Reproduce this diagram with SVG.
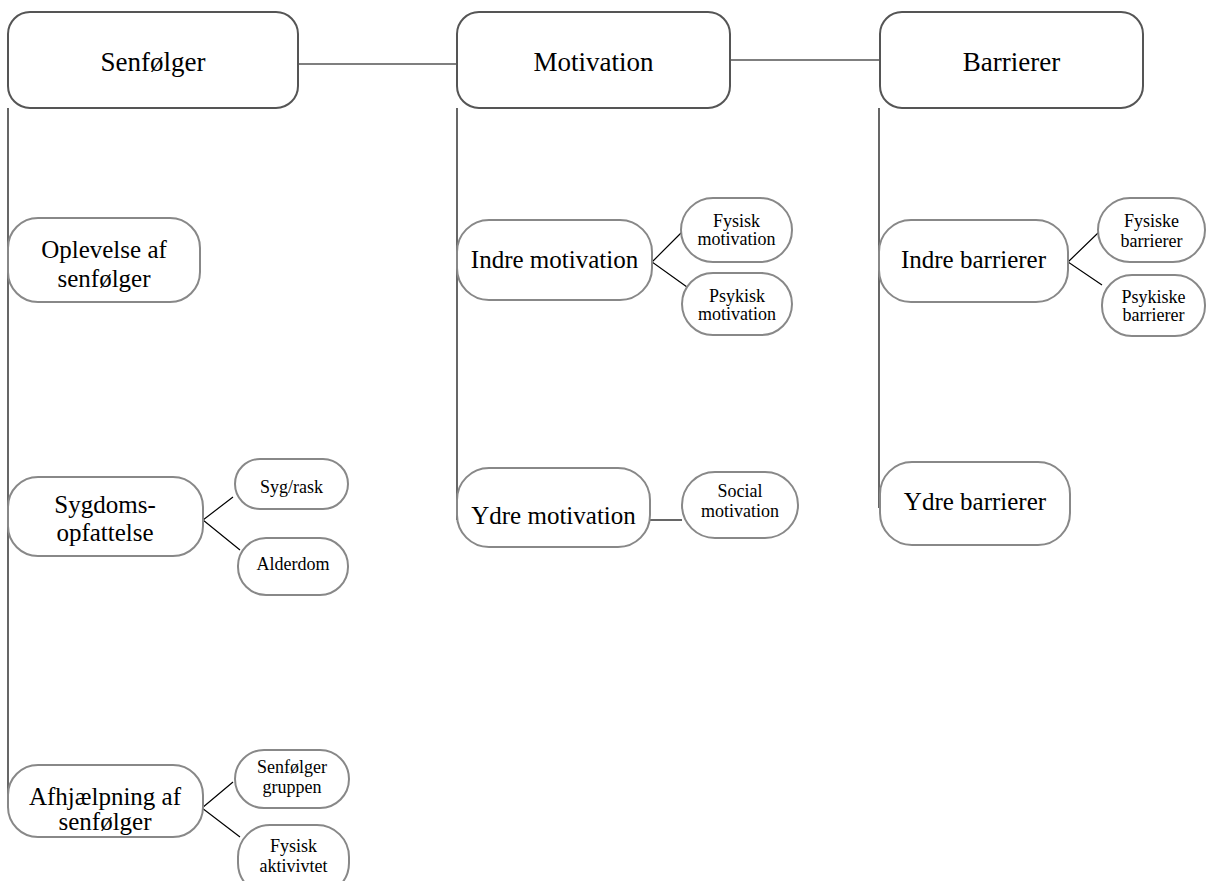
<svg xmlns="http://www.w3.org/2000/svg" width="1206" height="881" viewBox="0 0 1206 881">
<style>
.top{fill:#fff;stroke:#555;stroke-width:2}
.sub{fill:#fff;stroke:#888;stroke-width:2}
.t{font-family:"Liberation Serif","Times New Roman",serif;fill:#000;text-anchor:middle}
.t1{font-size:27px}
.t2{font-size:25px}
.t3{font-size:18px}
.ln{stroke:#000;stroke-width:1.2;fill:none}
</style>
<rect width="1206" height="881" fill="#fff"/>
<g id="connectors">
<line class="ln" x1="298" y1="64" x2="457" y2="64"/>
<line class="ln" x1="730" y1="60" x2="880" y2="60"/>
<line class="ln" x1="8" y1="108" x2="8" y2="800"/>
<line class="ln" x1="457" y1="108" x2="457" y2="520"/>
<line class="ln" x1="879" y1="108" x2="879" y2="508"/>
<polyline class="ln" points="233,497 203,520 240,550"/>
<polyline class="ln" points="233,782 202,808 240,837"/>
<polyline class="ln" points="682,232 652,262 687,287"/>
<line class="ln" x1="650" y1="520" x2="682" y2="520"/>
<polyline class="ln" points="1099,232 1068,262 1102,285"/>
</g>
<g id="senfolger"><rect class="top" x="8" y="12" width="290" height="96" rx="22"/><text class="t t1" x="153" y="71">Senfølger</text></g>
<g id="motivation"><rect class="top" x="457" y="12" width="273" height="96" rx="22"/><text class="t t1" x="593.5" y="71">Motivation</text></g>
<g id="barrierer"><rect class="top" x="880" y="12" width="263" height="96" rx="22"/><text class="t t1" x="1011.5" y="71">Barrierer</text></g>

<g id="oplevelse"><rect class="sub" x="8" y="218" width="192" height="84" rx="30"/><text class="t t2" x="104" y="258">Oplevelse af</text><text class="t t2" x="104" y="287">senfølger</text></g>
<g id="sygdom"><rect class="sub" x="8" y="477" width="195" height="79" rx="30"/><text class="t t2" x="105" y="513">Sygdoms-</text><text class="t t2" x="105" y="541">opfattelse</text></g>
<g id="sygrask"><rect class="sub" x="235" y="459" width="113" height="50" rx="25"/><text class="t t3" x="291.5" y="493">Syg/rask</text></g>
<g id="alderdom"><rect class="sub" x="238" y="538" width="110" height="57" rx="28"/><text class="t t3" x="293" y="570">Alderdom</text></g>
<g id="afhjaelpning"><rect class="sub" x="8" y="765" width="195" height="72" rx="30"/><text class="t t2" x="105" y="805">Afhjælpning af</text><text class="t t2" x="105" y="830">senfølger</text></g>
<g id="gruppen"><rect class="sub" x="235" y="750" width="114" height="58" rx="29"/><text class="t t3" x="292" y="773">Senfølger</text><text class="t t3" x="292" y="793">gruppen</text></g>
<g id="aktivitet"><rect class="sub" x="238" y="825" width="111" height="70" rx="32"/><text class="t t3" x="293.5" y="852">Fysisk</text><text class="t t3" x="293.5" y="872">aktivivtet</text></g>

<g id="indremot"><rect class="sub" x="457" y="220" width="195" height="80" rx="32"/><text class="t t2" x="554.5" y="268">Indre motivation</text></g>
<g id="fysmot"><rect class="sub" x="681" y="198" width="111" height="64" rx="32"/><text class="t t3" x="736.5" y="227">Fysisk</text><text class="t t3" x="736.5" y="245">motivation</text></g>
<g id="psymot"><rect class="sub" x="682" y="273" width="110" height="62" rx="31"/><text class="t t3" x="737" y="302">Psykisk</text><text class="t t3" x="737" y="320">motivation</text></g>
<g id="ydremot"><rect class="sub" x="457" y="468" width="193" height="79" rx="32"/><text class="t t2" x="553.5" y="524">Ydre motivation</text></g>
<g id="socmot"><rect class="sub" x="682" y="472" width="116" height="66" rx="33"/><text class="t t3" x="740" y="497">Social</text><text class="t t3" x="740" y="517">motivation</text></g>

<g id="indrebar"><rect class="sub" x="879" y="220" width="189" height="82" rx="32"/><text class="t t2" x="973.5" y="268">Indre barrierer</text></g>
<g id="fysbar"><rect class="sub" x="1098" y="198" width="107" height="64" rx="32"/><text class="t t3" x="1151.5" y="227">Fysiske</text><text class="t t3" x="1151.5" y="247">barrierer</text></g>
<g id="psybar"><rect class="sub" x="1102" y="275" width="103" height="61" rx="30"/><text class="t t3" x="1153.5" y="303">Psykiske</text><text class="t t3" x="1153.5" y="321">barrierer</text></g>
<g id="ydrebar"><rect class="sub" x="880" y="462" width="190" height="83" rx="32"/><text class="t t2" x="975" y="510">Ydre barrierer</text></g>
</svg>
